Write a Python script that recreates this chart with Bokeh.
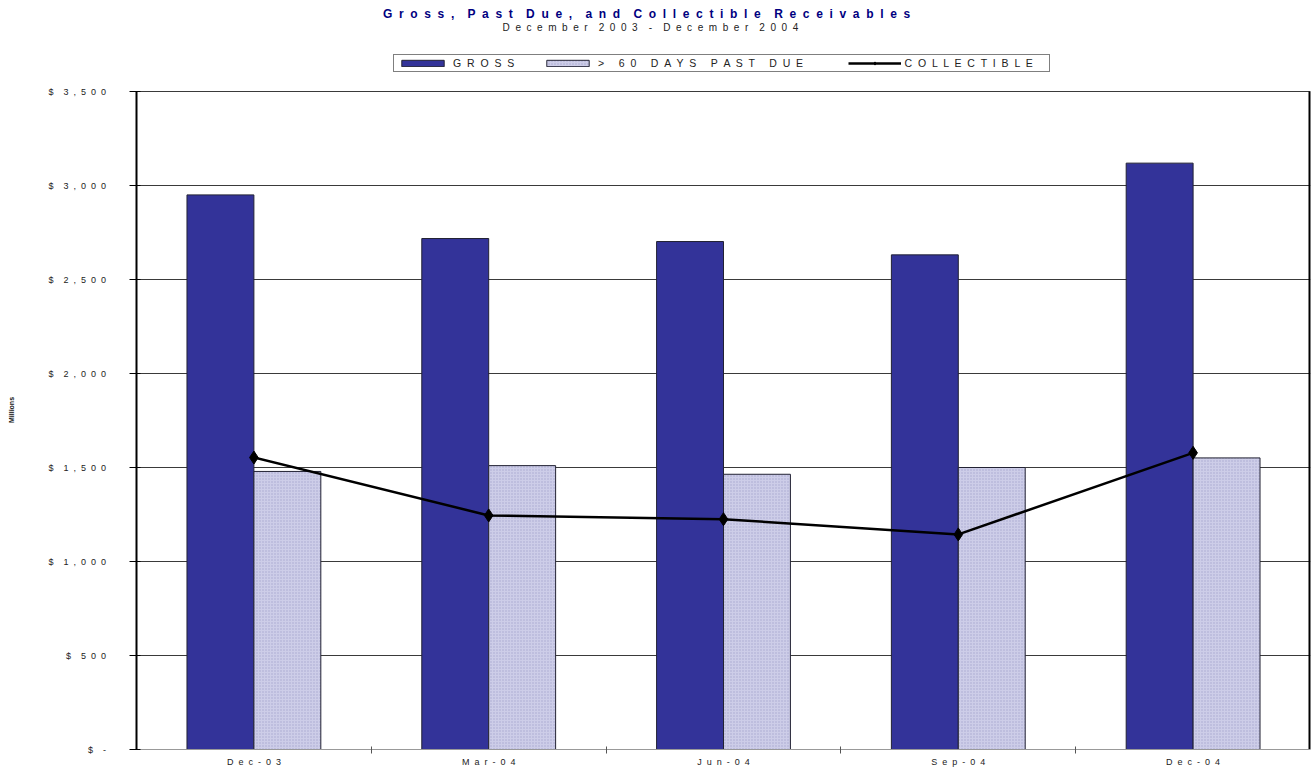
from bokeh.plotting import figure
from bokeh.models import Range1d, FixedTicker, Legend, LegendItem, Label
from bokeh.embed import file_html
from bokeh.resources import INLINE
import numpy as np

# ---- data ----
categories = ["Dec-03", "Mar-04", "Jun-04", "Sep-04", "Dec-04"]
gross = [2950, 2718, 2702, 2631, 3119]
past_due = [1479, 1510, 1464, 1500, 1551]
collectible = [1553, 1245, 1225, 1144, 1578]
y_ticks = [0, 500, 1000, 1500, 2000, 2500, 3000, 3500]
y_tick_labels = ["$ -", "$ 500", "$ 1,000", "$ 1,500", "$ 2,000", "$ 2,500", "$ 3,000", "$ 3,500"]
title_text = "Gross, Past Due, and Collectible Receivables"
subtitle_text = "December 2003 - December 2004"
y_title = "Millions"
series_names = ["GROSS", "> 60 DAYS PAST DUE", "COLLECTIBLE"]

NB = "\u00a0"
GAP2 = " " + NB          # two-space letter spacing (not collapsed in SVG)


def spaced(s, gap=GAP2):
    return gap.join(list(s))


FONT = "Liberation Sans"
W, H = 1312, 769
FL, FR, FB = 136, 1310, 749       # frame left / right / bottom (px)
PLOT_TOP = 91                      # pixel row of the top value
Y_MAX = y_ticks[-1]
# the frame reaches the top of the canvas so titles and legend can live inside it
y_end = Y_MAX * FB / (FB - PLOT_TOP)

x = np.arange(len(categories))
bw = 0.285
x_end = len(categories) - 0.5

p = figure(width=W, height=H, output_backend="svg", toolbar_location=None,
           x_range=Range1d(-0.5, x_end), y_range=Range1d(0, y_end),
           min_border_left=FL, min_border_right=W - FR, min_border_top=0,
           min_border_bottom=H - FB)
p.background_fill_color = "white"
p.border_fill_color = "white"
p.outline_line_color = None

# grid
p.xgrid.grid_line_color = None
p.ygrid.grid_line_color = "#3a3a3a"
p.ygrid.grid_line_width = 1

r_gross = p.vbar(x=x - bw / 2, top=gross, width=bw, fill_color="#333399",
                 line_color="#222233", line_width=1)
r_past = p.vbar(x=x + bw / 2, top=past_due, width=bw, fill_color="#CDCDE8",
                line_color="#222233", line_width=1, hatch_pattern="dot",
                hatch_color="#9898C8", hatch_scale=3, hatch_weight=1, hatch_alpha=0.7)
r_line = p.line(x=x, y=collectible, line_color="black", line_width=2.5)
r_mark = p.scatter(x=x, y=collectible, marker="diamond", size=13,
                   fill_color="black", line_color="black")

# right border of the plot area
p.segment(x0=[x_end], y0=[0], x1=[x_end], y1=[Y_MAX], line_color="black", line_width=4)

# y axis
p.yaxis.bounds = (0, Y_MAX)
p.yaxis.ticker = FixedTicker(ticks=y_ticks, minor_ticks=[])
p.yaxis.major_label_overrides = {t: spaced(l) for t, l in zip(y_ticks, y_tick_labels)}
p.yaxis.major_label_text_font = FONT
p.yaxis.major_label_text_font_size = "9px"
p.yaxis.major_label_text_color = "#222222"
p.yaxis.major_tick_in = 4
p.yaxis.major_tick_out = 7
p.yaxis.major_label_standoff = 21
p.yaxis.axis_line_width = 2
p.yaxis.axis_line_color = "black"
p.yaxis.major_tick_line_color = "black"
# trailing no-break spaces move the (frame-centred) label down to the value-area centre
p.yaxis.axis_label = y_title + NB * 36
p.yaxis.axis_label_text_font = FONT
p.yaxis.axis_label_text_font_size = "7px"
p.yaxis.axis_label_text_font_style = "bold"
p.yaxis.axis_label_text_color = "#111111"
p.yaxis.axis_label_standoff = 30

# x axis
p.xaxis.ticker = FixedTicker(ticks=list(x), minor_ticks=list(x[:-1] + 0.5))
p.xaxis.major_label_overrides = {int(i): spaced(c) for i, c in zip(x, categories)}
p.xaxis.major_label_text_font = FONT
p.xaxis.major_label_text_font_size = "9px"
p.xaxis.major_label_text_color = "#222222"
p.xaxis.major_tick_line_color = None
p.xaxis.major_tick_out = 0
p.xaxis.major_tick_in = 0
p.xaxis.minor_tick_out = 4
p.xaxis.minor_tick_in = 3
p.xaxis.minor_tick_line_color = "#555555"
p.xaxis.major_label_standoff = 3
p.xaxis.axis_line_color = "#999999"

# title & subtitle (screen units, relative to the frame's bottom-left)
p.add_layout(Label(x=654.5 - FL, y=FB - 13, x_units="screen", y_units="screen",
                   text=spaced(title_text), text_align="center", text_baseline="middle",
                   text_font=FONT, text_font_size="12px", text_font_style="bold",
                   text_color="#000080"))
p.add_layout(Label(x=655.5 - FL, y=FB - 27, x_units="screen", y_units="screen",
                   text=spaced(subtitle_text), text_align="center", text_baseline="middle",
                   text_font=FONT, text_font_size="10px", text_color="#222222"))

# legend
legend = Legend(items=[
    LegendItem(label=spaced(series_names[0]), renderers=[r_gross]),
    LegendItem(label=spaced(series_names[1]) + NB * 7, renderers=[r_past]),
    LegendItem(label=spaced(series_names[2]) + NB * 5, renderers=[r_line, r_mark]),
], orientation="horizontal", location=(393 - FL, FB - 72),
    label_text_font=FONT, label_text_font_size="10.5px", label_text_color="#222222",
    glyph_width=53, glyph_height=8, label_standoff=4, spacing=24, padding=2,
    margin=0, border_line_color="black", border_line_width=1,
    background_fill_color="white", label_height=10, label_width=64)
p.add_layout(legend, "center")

open("out.html", "w").write(file_html(p, INLINE))
